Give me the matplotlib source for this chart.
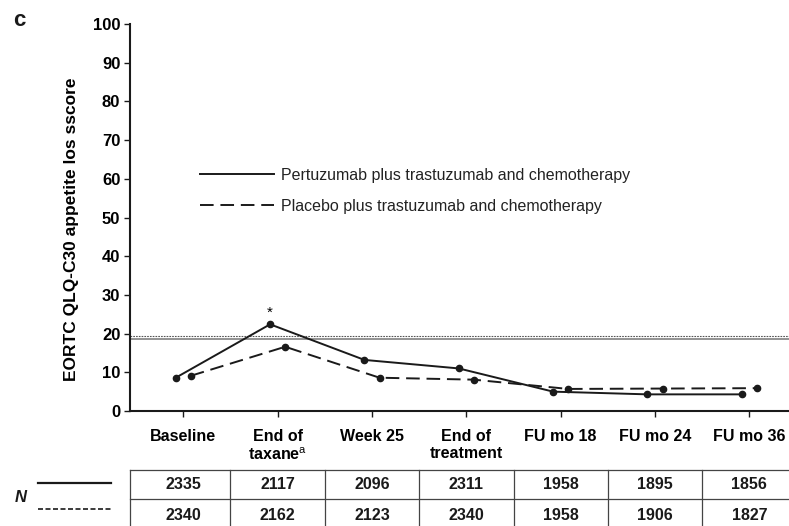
import numpy as np
import matplotlib
matplotlib.use("Agg")
import matplotlib.pyplot as plt
from matplotlib.lines import Line2D
import matplotlib.transforms as mtransforms

plt.rcParams['font.family'] = ['Liberation Sans', 'DejaVu Sans']
plt.rcParams['mathtext.fontset'] = 'custom'
plt.rcParams['mathtext.rm'] = 'Liberation Sans'

# data
timepoints = ["Baseline", "End of\ntaxane$^{\\rm a}$", "Week 25", "End of\ntreatment",
              "FU mo 18", "FU mo 24", "FU mo 36"]
pertuzumab = [8.6, 22.4, 13.2, 11.0, 5.0, 4.3, 4.3]
placebo = [9.1, 16.6, 8.6, 8.1, 5.7, 5.8, 5.9]
n_pertuzumab = [2335, 2117, 2096, 2311, 1958, 1895, 1856]
n_placebo = [2340, 2162, 2123, 2340, 1958, 1906, 1827]
ref_solid = 18.6
ref_dotted = 19.4

dark = "#1a1a1a"

fig = plt.figure(figsize=(7.89, 5.26), dpi=100)
ax = fig.add_axes([130/789, 1 - 411/526, 659/789, 387/526])

x = np.arange(len(timepoints))
off = 0.08

# reference lines
ax.axhline(ref_solid, color="#8a8a8a", lw=1.3, zorder=1)
ax.axhline(ref_dotted, color="#555555", lw=0.8, ls=(0, (1.5, 1.0)), zorder=1)

ax.plot(x - off, pertuzumab, color=dark, lw=1.4, marker="o", ms=4.5, zorder=3)
ln, = ax.plot(x + off, placebo, color=dark, lw=1.4, marker="o", ms=4.5, zorder=3)
ln.set_dashes((7, 3.5))

ax.annotate("*", xy=(x[1] - off, pertuzumab[1]), xytext=(0, 3),
            textcoords="offset points", ha="center", va="bottom", fontsize=11)

ax.set_xlim(-0.565, 6.42)
ax.set_ylim(0, 100)
ax.set_yticks(np.arange(0, 101, 10))
ax.set_xticks(x)
ax.set_xticklabels(timepoints, fontweight="bold", fontsize=11.5, linespacing=1.15)
for lbl in ax.get_yticklabels():
    lbl.set_fontweight("bold")
    lbl.set_fontsize(12)
ax.tick_params(axis="x", length=4, width=1, pad=9, color=dark)
ax.tick_params(axis="y", length=4, width=1, pad=3, color=dark)
ax.spines["top"].set_visible(False)
ax.spines["right"].set_visible(False)
ax.spines["left"].set_linewidth(1.5)
ax.spines["bottom"].set_linewidth(1.5)
ax.spines["left"].set_color(dark)
ax.spines["bottom"].set_color(dark)

ax.set_ylabel("EORTC QLQ-C30 appetite los sscore", fontweight="bold", fontsize=12.5)
ax.yaxis.set_label_coords(-0.077, 0.47)

handles = [Line2D([], [], color=dark, lw=1.4),
           Line2D([], [], color=dark, lw=1.4, dashes=(7, 3.5))]
labels = ["Pertuzumab plus trastuzumab and chemotherapy",
          "Placebo plus trastuzumab and chemotherapy"]
leg = ax.legend(handles, labels, loc="upper left", bbox_to_anchor=(0.085, 0.665),
                frameon=False, handlelength=4.6, handletextpad=0.45, labelspacing=0.98,
                fontsize=11.5)
for t in leg.get_texts():
    t.set_color("#222222")

# table of patient numbers under the axis
tr = mtransforms.blended_transform_factory(ax.transData, ax.transAxes)
y_top = -(470 - 411) / 387
y_mid = -(499 - 411) / 387
y_bot = -(535 - 411) / 387
xl = ax.get_xlim()
for yy in (y_top, y_mid):
    ax.add_line(Line2D([xl[0], xl[1]], [yy, yy], transform=tr, color="#444444",
                       lw=0.9, clip_on=False))
for xx in [xl[0]] + list(x[:-1] + 0.5):
    ax.add_line(Line2D([xx, xx], [y_top, y_bot], transform=tr, color="#444444",
                       lw=0.9, clip_on=False))
for i in range(len(x)):
    ax.text(x[i], (y_top + y_mid) / 2, str(n_pertuzumab[i]), transform=tr, ha="center",
            va="center", fontweight="bold", fontsize=11.5, color=dark)
    ax.text(x[i], (y_mid + y_bot) / 2 + 0.005, str(n_placebo[i]), transform=tr,
            ha="center", va="center", fontweight="bold", fontsize=11.5, color=dark)

fig.add_artist(Line2D([38/789, 111/789], [1 - 483/526, 1 - 483/526], color=dark, lw=1.6))
fig.add_artist(Line2D([38/789, 111/789], [1 - 509/526, 1 - 509/526], color=dark, lw=1.2,
                      ls=(0, (3, 1.5))))
fig.text(15/789, 1 - 497/526, "N", fontstyle="italic", fontweight="bold", fontsize=12,
         ha="left", va="center", color=dark)
fig.text(19/789, 1 - 20/526, "c", fontweight="bold", fontsize=16, ha="center", va="center",
         color=dark)

fig.savefig("out.png", dpi=100)
